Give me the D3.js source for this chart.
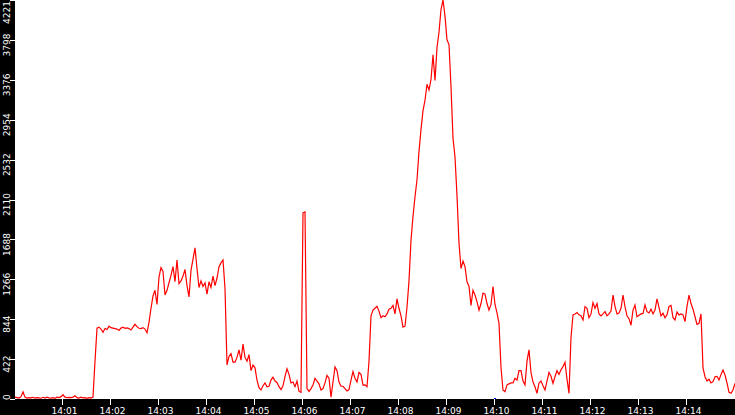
<!DOCTYPE html>
<html>
<head>
<meta charset="utf-8">
<script src="https://cdn.jsdelivr.net/npm/d3@7"></script>
<style>
  html, body { margin: 0; padding: 0; background: #fff; }
  svg { display: block; }
  text { font-family: "DejaVu Sans", "Liberation Sans", sans-serif; font-size: 9px; fill: #fff; }
</style>
</head>
<body>
<svg id="chart" width="735" height="415"></svg>
<script>
// ---- data ----
const startTime = new Date(2020, 0, 1, 14, 0, 0);
const endTime = new Date(2020, 0, 1, 14, 15, 0);
const stepSeconds = 2.5;
const values = [
  // 14:00:00 - 14:01:37
  20, 15, 10, 25, 75, 20, 10, 15, 12, 18, 10, 15, 12, 8, 18, 10, 20, 12, 10, 15,
  8, 20, 15, 25, 45, 20, 15, 18, 15, 20, 35, 15, 10, 20, 12, 15, 8, 15, 10, 20,
  400,
  // plateau
  750, 760, 740, 705, 745, 735, 770, 755, 750, 745, 740, 725, 750, 760, 748, 752,
  745, 730, 760, 790, 765, 748, 745, 755, 740, 700,
  // rise ~14:03 - 14:04:30
  810, 960, 1090, 1150, 1000, 1290, 1390, 1350, 1100, 1150, 1230, 1310, 1400, 1240,
  1470, 1220, 1250, 1300, 1370, 1200, 1080, 1360, 1480, 1600, 1380, 1180, 1250, 1190,
  1230, 1110, 1240, 1180, 1300, 1200, 1280, 1400, 1440, 1470, 1170, 360, 450,
  // 14:04:30 - 14:08:10
  480, 390, 390, 440, 520, 410, 580, 440, 400, 470,
  300, 360, 330, 200, 120, 95, 140, 170, 130, 135,
  200, 230, 190, 175, 130, 100, 140, 236, 320, 260,
  170, 180, 130, 190, 80, 70, 1970, 1980, 110, 80,
  110, 148, 219, 190, 160, 95, 110, 170, 250, 220,
  20, 180, 340, 300, 180, 135, 135, 110, 85, 100,
  200, 290, 220, 180, 280, 260, 148, 150, 130, 400,
  880, 940, 960, 980, 930, 860, 880, 870, 900, 950,
  960, 990, 900, 1060, 960, 880, 760, 770, 970, 1250,
  // peak
  1680, 1930, 2140, 2320, 2620, 2850, 3050, 3160, 3330, 3270,
  3380, 3640, 3370, 3720, 3880, 4120, 4221, 4050, 3800, 3750,
  3300, 2760, 2560, 2150, 1650, 1380, 1460, 1400, 1240, 1190,
  990, 1150, 1100, 1030, 940, 1010, 1120, 1110, 1010, 940,
  1000, 1190, 1000, 910, 800, 330, 95, 77,
  // 14:10 - 14:15
  150, 160, 170, 170, 219, 200, 300, 300, 190, 150,
  400, 520, 280, 180, 130, 60, 170, 190, 140, 95,
  190, 280, 240, 166, 236, 300, 260, 310, 342, 390,
  210, 60, 650, 890, 900, 915, 890, 880, 836, 977,
  960, 860, 900, 1020, 960, 1010, 900, 880, 900, 924,
  880, 900, 930, 1100, 980, 900, 910, 960, 1100, 977,
  880, 850, 780, 940, 995, 870, 885, 900, 905, 995,
  924, 910, 950, 900, 940, 1060, 970, 880, 907, 860,
  890, 980, 990, 860, 836, 920, 890, 900, 890, 818,
  980, 1100, 1010, 950, 870, 790, 800, 900, 330, 236,
  190, 210, 170, 184, 236, 240, 200, 260, 307, 254,
  170, 70, 60, 95, 166
];
const yTickLabels = ["0", "422", "844", "1266", "1688", "2110", "2532", "2954", "3376", "3798", "4221"];
const xTickLabels = ["14:01", "14:02", "14:03", "14:04", "14:05", "14:06", "14:07",
                     "14:08", "14:09", "14:10", "14:11", "14:12", "14:13", "14:14"];
const yMax = 4221;
const markerTime = new Date(2020, 0, 1, 14, 9, 58, 500);

// ---- build ----
const points = values.map((v, i) => ({ t: new Date(startTime.getTime() + i * stepSeconds * 1000), v }));

const W = 735, H = 415;
const left = 15, bottom = 399;
const svg = d3.select("#chart");

const x = d3.scaleTime().domain([startTime, endTime]).range([left, W]);
const y = d3.scaleLinear().domain([0, yMax]).range([bottom, 0]);

svg.append("rect").attr("x", 0).attr("y", 0).attr("width", W).attr("height", H).attr("fill", "#fff");
svg.append("rect").attr("x", 0).attr("y", 0).attr("width", left).attr("height", H).attr("fill", "#000");
svg.append("rect").attr("x", 0).attr("y", bottom).attr("width", W).attr("height", H - bottom).attr("fill", "#000");

// y axis ticks & labels
const yTicks = yTickLabels.map(s => +s);
svg.append("g").selectAll("line").data(yTicks).join("line")
  .attr("x1", left - 5).attr("x2", left)
  .attr("y1", d => Math.round(y(d)) + 0.5).attr("y2", d => Math.round(y(d)) + 0.5)
  .attr("stroke", "#fff").attr("stroke-width", 1).attr("shape-rendering", "crispEdges");

svg.append("g").selectAll("text").data(yTickLabels).join("text")
  .attr("text-anchor", "middle")
  .text(d => d)
  .each(function (d) {
    const len = this.getComputedTextLength();
    let c = y(+d) + 5;
    c = Math.max(len / 2 + 1, Math.min(400 - len / 2, c));
    d3.select(this).attr("transform", `translate(9.5,${c}) rotate(-90)`);
  });

// x axis ticks & labels
const parseHM = d3.timeParse("%Y-%m-%d %H:%M");
const xTicks = xTickLabels.map(s => parseHM("2020-01-01 " + s));
svg.append("g").selectAll("line").data(xTicks).join("line")
  .attr("x1", d => Math.round(x(d)) - 0.5).attr("x2", d => Math.round(x(d)) - 0.5)
  .attr("y1", bottom).attr("y2", bottom + 6)
  .attr("stroke", "#fff").attr("stroke-width", 1).attr("shape-rendering", "crispEdges");
svg.append("g").selectAll("text").data(xTicks).join("text")
  .attr("x", d => x(d) + 1.5).attr("y", 413.5)
  .attr("text-anchor", "middle")
  .text((d, i) => xTickLabels[i]);

// marker
svg.append("rect").attr("x", Math.round(x(markerTime))).attr("y", bottom - 1)
  .attr("width", 2).attr("height", 1).attr("fill", "#0000ff");

// line
const line = d3.line().x(d => x(d.t)).y(d => y(d.v));
svg.append("path").datum(points)
  .attr("d", line)
  .attr("fill", "none")
  .attr("stroke", "#ff0000")
  .attr("stroke-width", 1.2);
</script>
</body>
</html>
